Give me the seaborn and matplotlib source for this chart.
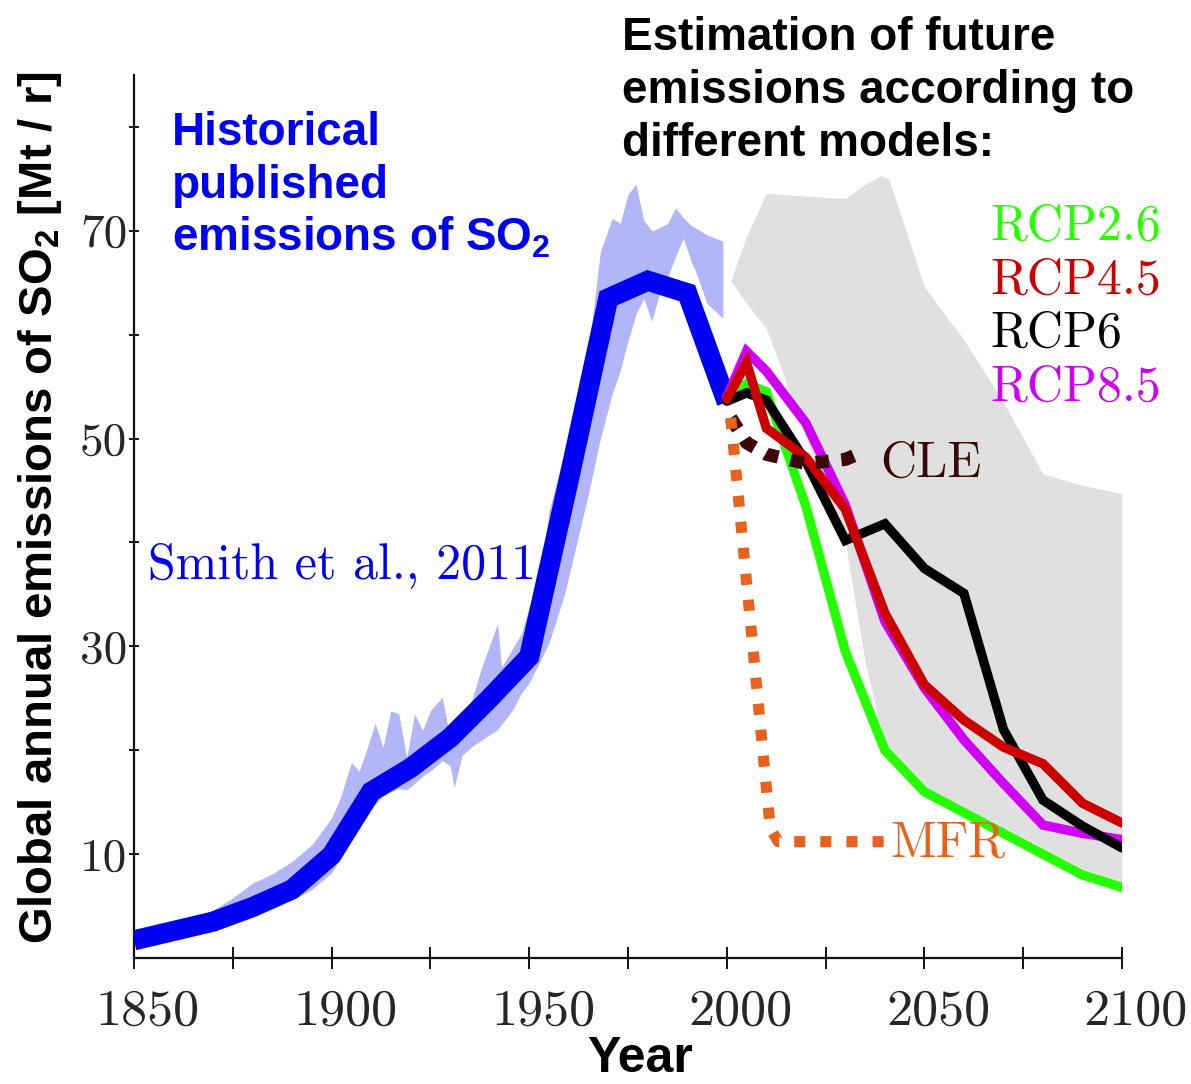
import numpy as np
import pandas as pd
import seaborn as sns
import matplotlib
matplotlib.use("Agg")
import matplotlib.pyplot as plt
from matplotlib.ticker import FixedLocator, NullFormatter
from matplotlib.transforms import ScaledTranslation

# ---------------- data ----------------
hist_years = [1850, 1860, 1870, 1880, 1890, 1900, 1910, 1920, 1930, 1940,
              1950, 1960, 1970, 1980, 1990, 2000]
hist_so2 = [1.7, 2.6, 3.5, 4.9, 6.6, 9.9, 16.0, 18.3, 21.2, 25.0,
            29.0, 46.0, 63.5, 65.2, 64.0, 53.5]

band_years = [1850, 1855, 1860, 1865, 1870, 1875, 1880, 1885, 1890, 1895,
              1900, 1902, 1905, 1907, 1909, 1911, 1913, 1915, 1917, 1919,
              1921, 1923, 1925, 1928, 1930, 1931, 1933, 1936, 1938, 1942,
              1943, 1946, 1948, 1950, 1952, 1955, 1959, 1965, 1968, 1971,
              1973, 1975, 1977, 1979, 1981, 1983, 1985, 1987, 1989, 1991,
              1992, 1995, 1999]
band_high = [2.3, 2.8, 3.3, 3.9, 4.6, 5.8, 7.2, 8.1, 9.3, 10.9,
             13.5, 15.2, 18.8, 18.0, 20.2, 22.6, 20.3, 23.8, 23.5, 19.3,
             23.5, 21.9, 23.8, 25.1, 21.0, 21.5, 21.9, 25.5, 28.0, 32.2,
             28.0, 29.9, 31.2, 33.8, 34.5, 43.0, 48.8, 58.5, 68.0, 71.2,
             70.7, 73.5, 74.5, 71.0, 70.0, 70.3, 70.7, 72.2, 71.3, 70.5,
             70.3, 69.6, 69.0]
band_low = [1.2, 1.6, 2.0, 2.4, 2.9, 3.4, 4.1, 4.8, 5.6, 6.6,
            8.2, 9.5, 11.5, 12.5, 13.8, 14.8, 15.6, 16.0, 16.3, 16.2,
            16.8, 17.5, 18.0, 19.0, 18.5, 16.4, 19.5, 20.5, 21.0, 22.0,
            22.5, 24.0, 25.5, 26.5, 28.0, 30.3, 35.1, 44.7, 50.0, 54.3,
            56.5, 59.4, 62.0, 63.5, 61.3, 64.0, 65.5, 67.5, 69.3, 67.0,
            66.2, 63.0, 61.6]

gray_years = [2001, 2005, 2010, 2018, 2026, 2030, 2035, 2039, 2041, 2050,
              2060, 2070, 2080, 2090, 2100]
gray_low = [65.2, 63.0, 60.6, 52.4, 43.5, 40.0, 28.5, 22.0, 19.3, 16.4,
            14.5, 12.6, 10.6, 8.6, 7.2]
gray_high = [65.2, 69.5, 73.6, 73.4, 73.2, 73.1, 74.5, 75.3, 75.0, 64.6,
             59.5, 53.5, 46.6, 45.5, 44.7]

rcp_years = [2000, 2005, 2010, 2020, 2030, 2040, 2050, 2060, 2070, 2080, 2090, 2100]
rcp26 = [54.0, 55.3, 54.5, 43.5, 29.5, 20.0, 16.0, 14.0, 12.0, 10.0, 8.0, 6.8]
rcp45 = [53.8, 57.3, 51.0, 48.2, 43.2, 33.2, 26.3, 22.9, 20.3, 18.7, 14.9, 13.0]
rcp6 = [53.6, 54.4, 53.7, 47.8, 40.2, 41.8, 37.5, 35.1, 22.0, 15.2, 12.7, 10.6]
rcp85 = [54.0, 58.4, 56.5, 51.5, 43.6, 32.4, 26.0, 21.0, 16.8, 12.8, 12.0, 11.4]

cle_years = [2001, 2005, 2010, 2020, 2030, 2035]
cle_so2 = [52.0, 49.6, 48.5, 47.6, 48.0, 48.8]

mfr_years = [2001, 2011, 2013, 2040]
mfr_so2 = [52.0, 12.5, 11.2, 11.2]

x_major = [1850, 1900, 1950, 2000, 2050, 2100]
x_minor = [1875, 1925, 1975, 2025, 2075]
y_major = [10, 30, 50, 70]
y_minor = [20, 40, 60, 80]

# ---------------- style ----------------
sns.set_style("white")
plt.rcParams["mathtext.fontset"] = "custom"
plt.rcParams["mathtext.rm"] = "Liberation Sans"
plt.rcParams["mathtext.bf"] = "Liberation Sans:bold"

BLUE = "#0000F2"
BAND = "#B2B5F8"
GRAY = "#E0E0E0"
GREEN = "#26FF00"
RED = "#CC0000"
MAGENTA = "#D000F5"
CLE_C = "#3A0808"
MFR_C = "#E8621E"
SERIF = "cmr10"
SANS = "Liberation Sans"

W, H = 1191, 1084
fig = plt.figure(figsize=(W / 100, H / 100), dpi=100)
ax = fig.add_axes([134 / W, 1 - 958 / H, (1122 - 134) / W, (958 - 75) / H])

def fx(px):
    return px / W

def fy(py):
    return 1 - py / H

# gray range of scenarios
ax.fill_between(gray_years, gray_low, gray_high, color=GRAY, lw=0, zorder=1)
# historical uncertainty band
ax.fill_between(band_years, band_low, band_high, color=BAND, lw=0, zorder=2)

hist_df = pd.DataFrame({"year": hist_years, "so2": hist_so2})
sns.lineplot(data=hist_df, x="year", y="so2", ax=ax, color=BLUE, linewidth=14.5,
             solid_joinstyle="miter", solid_capstyle="butt", zorder=4)

rcp_df = pd.DataFrame({"year": rcp_years, "RCP2.6": rcp26, "RCP8.5": rcp85,
                       "RCP6": rcp6, "RCP4.5": rcp45})
for name, col in [("RCP2.6", GREEN), ("RCP8.5", MAGENTA), ("RCP6", "black"), ("RCP4.5", RED)]:
    sns.lineplot(data=rcp_df, x="year", y=name, ax=ax, color=col, linewidth=6.8,
                 solid_joinstyle="miter", solid_capstyle="round", zorder=5)

cle_df = pd.DataFrame({"year": cle_years, "so2": cle_so2})
sns.lineplot(data=cle_df, x="year", y="so2", ax=ax, color=CLE_C, linewidth=9.5,
             linestyle=(0, (1.0, 0.95)), dash_capstyle="butt", zorder=6)
mfr_df = pd.DataFrame({"year": mfr_years, "so2": mfr_so2})
sns.lineplot(data=mfr_df, x="year", y="so2", ax=ax, color=MFR_C, linewidth=8.0,
             linestyle=(0, (1.0, 1.35)), dash_capstyle="butt", zorder=6)

# ---------------- axes ----------------
ax.set_xlim(1850, 2100)
ax.set_ylim(0, 85)
ax.set_xlabel("")
ax.set_ylabel("")
for s in ["top", "right"]:
    ax.spines[s].set_visible(False)
for s in ["left", "bottom"]:
    ax.spines[s].set_color("#111111")
    ax.spines[s].set_linewidth(1.6)

ax.xaxis.set_major_locator(FixedLocator(x_major))
ax.xaxis.set_minor_locator(FixedLocator(x_minor))
ax.yaxis.set_major_locator(FixedLocator(y_major))
ax.yaxis.set_minor_locator(FixedLocator(y_minor))
ax.xaxis.set_minor_formatter(NullFormatter())
ax.yaxis.set_minor_formatter(NullFormatter())
ax.set_xticklabels([str(v) for v in x_major], fontfamily=SERIF, fontsize=37.5)
ax.set_yticklabels([str(v) for v in y_major], fontfamily=SERIF, fontsize=34)
ax.tick_params(axis="x", which="both", direction="inout", length=16, width=1.4,
               color="#111111", pad=14, bottom=True)
ax.tick_params(axis="y", which="both", direction="inout", length=7, width=1.4,
               color="#111111", pad=1.5, left=True)
for lab in ax.get_xticklabels():
    lab.set_transform(lab.get_transform() + ScaledTranslation(0.14, 0, fig.dpi_scale_trans))

# axis titles
fig.text(fx(40), fy(508), "Global annual emissions of SO$_\\mathbf{2}$ [Mt / r]",
         rotation=90, ha="center", va="center", fontfamily=SANS,
         fontweight="bold", fontsize=34, color="black")
fig.text(fx(640), fy(1072), "Year", ha="center", va="baseline", fontfamily=SANS,
         fontweight="bold", fontsize=36, color="black")

# title block
for i, line in enumerate(["Estimation of future", "emissions according to",
                          "different models:"]):
    fig.text(fx(622), fy(50 + 53 * i), line, ha="left", va="baseline",
             fontfamily=SANS, fontweight="bold", fontsize=33, color="black")

# historical label
for i, line in enumerate(["Historical", "published", "emissions of SO$_\\mathbf{2}$"]):
    fig.text(fx(172), fy(145 + 53 * i), line, ha="left", va="baseline",
             fontfamily=SANS, fontweight="bold", fontsize=33, color=BLUE)

fig.text(fx(148), fy(578), "Smith et al., 2011", ha="left", va="baseline",
         fontfamily=SERIF, fontsize=36, color=BLUE)

for i, (name, col) in enumerate([("RCP2.6", GREEN), ("RCP4.5", RED),
                                 ("RCP6", "black"), ("RCP8.5", MAGENTA)]):
    fig.text(fx(990), fy(240 + 53.5 * i), name, ha="left", va="baseline",
             fontfamily=SERIF, fontsize=36, color=col)

fig.text(fx(880), fy(477), "CLE", ha="left", va="baseline", fontfamily=SERIF,
         fontsize=36, color=CLE_C)
fig.text(fx(890), fy(857), "MFR", ha="left", va="baseline", fontfamily=SERIF,
         fontsize=36, color=MFR_C)

fig.savefig("out.png", dpi=100, facecolor="white")
